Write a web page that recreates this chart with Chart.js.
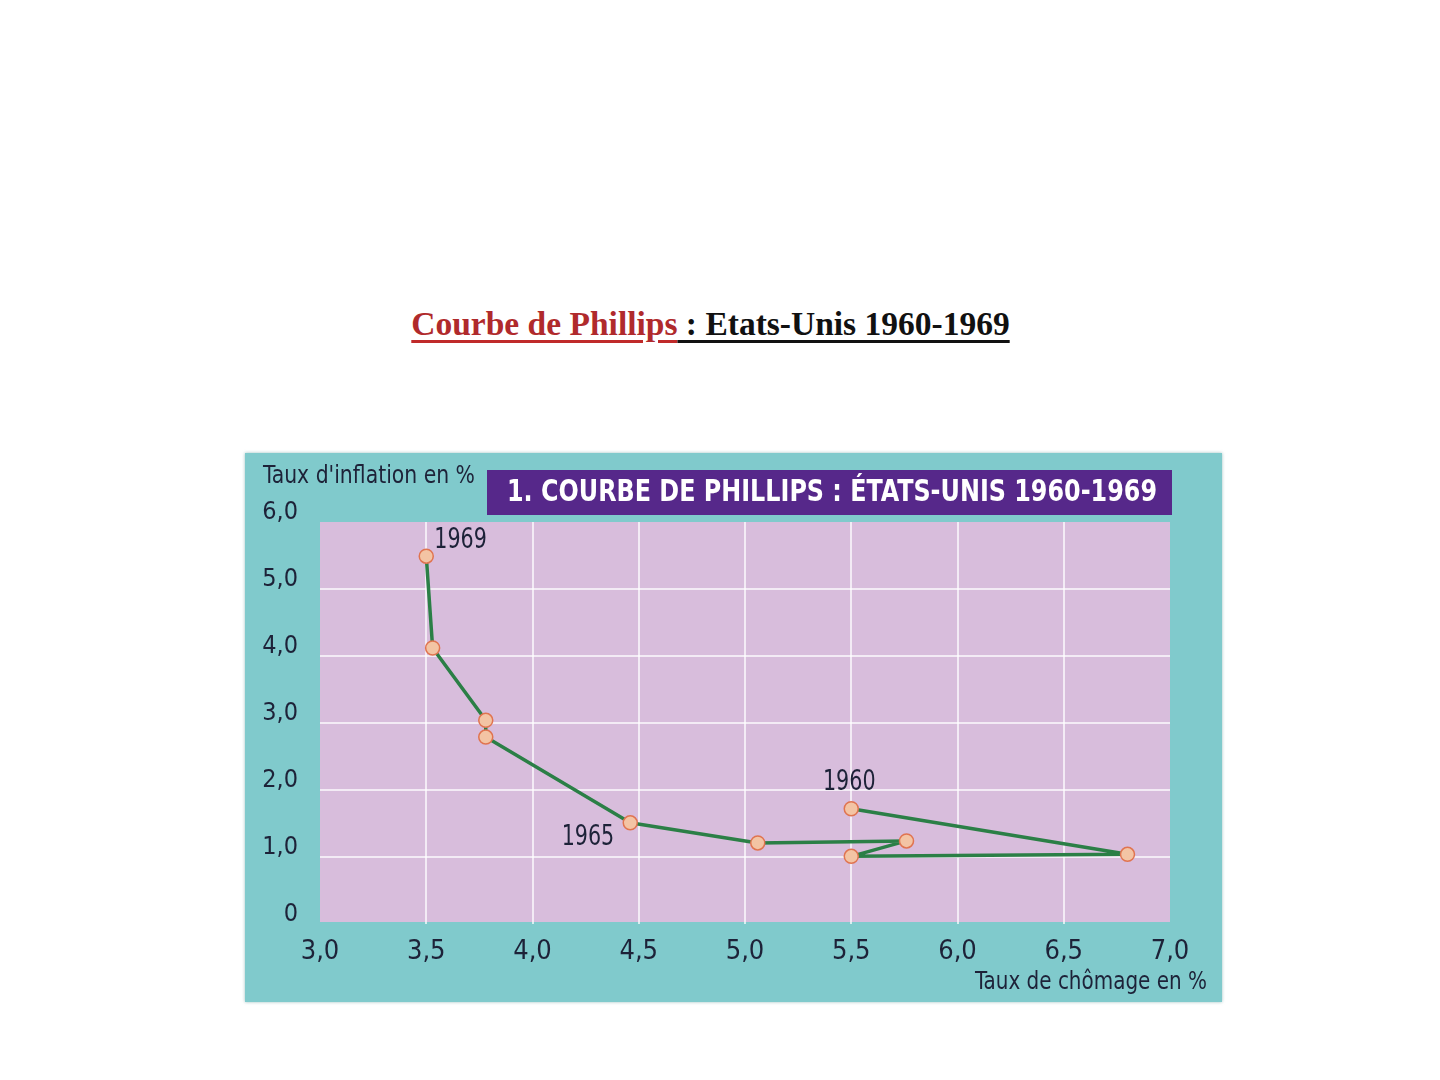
<!DOCTYPE html>
<html lang="fr">
<head>
<meta charset="UTF-8">
<title>Courbe de Phillips : Etats-Unis 1960-1969</title>
<script src="https://cdn.jsdelivr.net/npm/chart.js"></script>
<style>
  body {
    margin: 0;
    width: 1440px;
    height: 1080px;
    background: #ffffff;
    position: relative;
    overflow: hidden;
  }
  #pageTitle {
    position: absolute;
    left: 0;
    width: 1421px;
    top: 305px;
    text-align: center;
    font-family: 'Liberation Serif', 'DejaVu Serif', serif;
    font-weight: bold;
    font-size: 33.5px;
    color: #111;
  }
  #pageTitle span {
    text-decoration: underline;
    text-decoration-thickness: 3px;
    text-underline-offset: 5px;
  }
  #pageTitle .red { color: #b02a2c; text-decoration-color: #c02a2a; }
  #panel {
    position: absolute;
    left: 245px;
    top: 453px;
    width: 977px;
    height: 549px;
    background: #80cacc;
    box-shadow: 0 0 3px rgba(90,150,150,0.6);
  }
</style>
</head>
<body>

<div id="pageTitle"><span class="red">Courbe de Phillips</span><span> : Etats-Unis 1960-1969</span></div>

<div id="panel">
  <canvas id="phillips" width="977" height="549"></canvas>
</div>

<script>
// US 1960-1969
const years = [1960, 1961, 1962, 1963, 1964, 1965, 1966, 1967, 1968, 1969];
const unemployment = [5.5, 6.8, 5.5, 5.76, 5.06, 4.46, 3.78, 3.78, 3.53, 3.5];
const inflation = [1.72, 1.04, 1.01, 1.24, 1.21, 1.51, 2.79, 3.04, 4.12, 5.49];
const labelledYears = [1960, 1965, 1969];

const xTicks = [3.0, 3.5, 4.0, 4.5, 5.0, 5.5, 6.0, 6.5, 7.0];
const yTicks = [0, 1, 2, 3, 4, 5, 6];

const chartTitle = '1. COURBE DE PHILLIPS : ÉTATS-UNIS 1960-1969';
const yTitle = "Taux d'inflation en %";
const xTitle = 'Taux de chômage en %';

const narrow = "'Liberation Sans Narrow', 'DejaVu Sans Condensed', 'Liberation Sans', sans-serif";
const ink = '#1d2238';

function frNum(v) {
  return v === 0 ? '0' : v.toFixed(1).replace('.', ',');
}

// condensed text: draw with a horizontal squeeze
function squeezed(ctx, text, x, y, align, sx) {
  ctx.save();
  ctx.translate(x, y);
  ctx.scale(sx, 1);
  ctx.textAlign = align;
  ctx.fillText(text, 0, 0);
  ctx.restore();
}

const decor = {
  id: 'decor',
  beforeDraw(chart) {
    const { ctx, chartArea: a } = chart;
    ctx.save();
    ctx.fillStyle = '#d8bddc';
    ctx.fillRect(a.left, a.top, a.right - a.left, a.bottom - a.top - 2);
    ctx.restore();
  },
  afterDraw(chart) {
    const { ctx, chartArea: a } = chart;
    ctx.save();
    // title box
    ctx.fillStyle = '#56288a';
    ctx.fillRect(a.left + 167, a.top - 52, a.right - a.left - 165, 45);
    ctx.fillStyle = '#ffffff';
    ctx.font = 'bold 31px ' + narrow;
    ctx.textBaseline = 'middle';
    ctx.textAlign = 'left';
    ctx.fillText(chartTitle, a.left + 187, a.top - 29, a.right - a.left - 200);

    // axis titles
    ctx.fillStyle = ink;
    ctx.font = '25px ' + narrow;
    ctx.fillText(yTitle, 18, a.top - 46, 212);
    ctx.textAlign = 'right';
    ctx.fillText(xTitle, a.right + 37, a.bottom + 58, 232);

    // year labels
    const xs = chart.scales.x, ys = chart.scales.y;
    ctx.font = '28px ' + narrow;
    labelledYears.forEach(yr => {
      const i = years.indexOf(yr);
      const px = xs.getPixelForValue(unemployment[i]);
      const py = ys.getPixelForValue(inflation[i]);
      if (yr === 1960) {
        squeezed(ctx, String(yr), px - 2, py - 26, 'center', 0.82);
      } else if (yr === 1965) {
        squeezed(ctx, String(yr), px - 16, py + 15, 'right', 0.82);
      } else {
        squeezed(ctx, String(yr), px + 8, py - 15, 'left', 0.82);
      }
    });
    ctx.restore();
  }
};

const innerGrid = (scale, v) => (v === scale.min || v === scale.max) ? 'rgba(0,0,0,0)' : 'rgba(255,255,255,0.7)';

new Chart(document.getElementById('phillips'), {
  type: 'scatter',
  data: {
    datasets: [{
      label: 'Phillips',
      data: years.map((y, i) => ({ x: unemployment[i], y: inflation[i] })),
      showLine: true,
      borderColor: '#2b7f46',
      borderWidth: 3.5,
      borderJoinStyle: 'round',
      pointRadius: 7,
      pointBackgroundColor: '#f3c4a4',
      pointBorderColor: '#e07450',
      pointBorderWidth: 1.5,
      tension: 0
    }]
  },
  options: {
    responsive: false,
    animation: false,
    layout: { padding: { top: 69, right: 52, left: 0, bottom: 0 } },
    plugins: {
      legend: { display: false },
      tooltip: { enabled: false }
    },
    scales: {
      x: {
        type: 'linear',
        min: 3, max: 7,
        afterBuildTicks: s => { s.ticks = xTicks.map(v => ({ value: v })); },
        afterFit: s => { s.height = 78; },
        border: { display: false },
        grid: {
          drawTicks: false,
          lineWidth: 2,
          color: ctx => innerGrid(ctx.scale, ctx.tick.value)
        },
        ticks: {
          padding: 12,
          color: ink,
          font: { family: narrow, size: 27 },
          maxRotation: 0,
          autoSkip: false,
          callback: v => frNum(v)
        }
      },
      y: {
        type: 'linear',
        min: 0, max: 6,
        afterBuildTicks: s => { s.ticks = yTicks.map(v => ({ value: v })); },
        afterFit: s => { s.width = 75; },
        border: { display: false },
        grid: {
          drawTicks: false,
          lineWidth: 2,
          color: ctx => innerGrid(ctx.scale, ctx.tick.value)
        },
        ticks: {
          padding: 22,
          labelOffset: -10,
          color: ink,
          font: { family: narrow, size: 25 },
          callback: v => frNum(v)
        }
      }
    }
  },
  plugins: [decor]
});
</script>
</body>
</html>
